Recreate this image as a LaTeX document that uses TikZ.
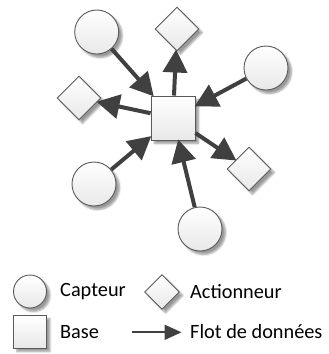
\documentclass[tikz,border=0pt]{standalone}
\usepackage{fontspec}
\setmainfont{Carlito}
\usetikzlibrary{shapes.geometric,arrows.meta,shadows.blur}
\definecolor{arrowgray}{HTML}{404040}
\definecolor{edgegray}{HTML}{5A5A5A}
\tikzset{
  shapebase/.style={draw=edgegray, line width=0.9pt, inner sep=0pt,
    top color=white, bottom color=black!9,
    blur shadow={shadow xshift=3.5pt, shadow yshift=-3.5pt, shadow blur steps=5, shadow opacity=40}},
  capteur/.style={shapebase, circle, minimum size=#1},
  capteur/.default=44pt,
  actionneur/.style={shapebase, diamond, minimum width=#1, minimum height=#1},
  actionneur/.default=44pt,
  basebox/.style={shapebase, rectangle, minimum size=#1},
  basebox/.default=44pt,
  flow/.style={draw=arrowgray, line width=4pt, -{Triangle[length=23pt, width=24pt]}, shorten >=-1pt},
  legflow/.style={draw=arrowgray, line width=1.7pt, -{Triangle[length=17pt, width=15pt]}},
  lbl/.style={anchor=west, inner sep=0pt, font=\fontsize{20.3pt}{24pt}\selectfont}
}
\begin{document}
\begin{tikzpicture}[x=1pt, y=-1pt]
\useasboundingbox (0,0) rectangle (329,354);
% nodes
\node[basebox] (base) at (173,118) {};
\node[capteur] (c1) at (96.7,32) {};
\node[capteur] (c2) at (266,68) {};
\node[capteur] (c3) at (94,184) {};
\node[capteur] (c4) at (200,229) {};
\node[actionneur] (d1) at (177,29) {};
\node[actionneur] (d2) at (79,98) {};
\node[actionneur] (d3) at (249,169) {};
% arrows
\draw[flow] (c1) -- (base);
\draw[flow] (c2) -- (base);
\draw[flow] (c3) -- (base);
\draw[flow] (c4) -- (base);
\draw[flow] (base) -- (d1);
\draw[flow] (base) -- (d2);
\draw[flow] (base) -- (d3);
% legend
\node[capteur=33pt] (lc) at (30,291.5) {};
\node[lbl] (lct) at (60,292) {Capteur};
\node[actionneur=35pt] (ld) at (162,292) {};
\node[lbl] (ldt) at (190,292) {Actionneur};
\node[basebox=33pt] (lb) at (30,331.5) {};
\node[lbl] (lbt) at (60,332) {Base};
\coordinate (la1) at (131.7,332.3);
\coordinate (la2) at (181.5,332.3);
\draw[legflow] (la1) -- (la2);
\node[lbl] (lat) at (190,332) {Flot de données};
\end{tikzpicture}
\end{document}
